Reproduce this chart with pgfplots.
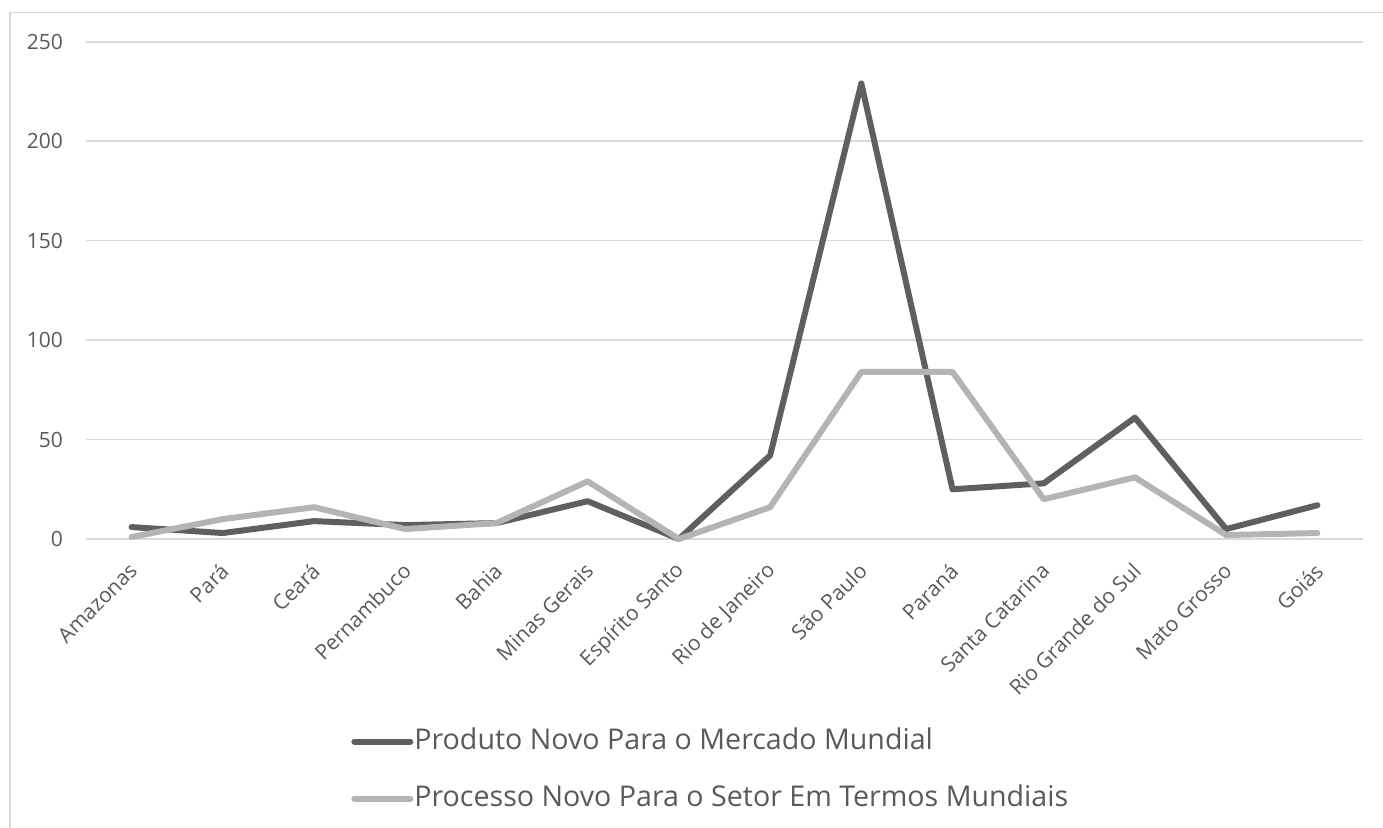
\documentclass[border=0pt]{standalone}
\usepackage{pgfplots}
\pgfplotsset{compat=1.18}
\usepackage{fontspec}
\setmainfont{Open Sans}
\definecolor{serdark}{HTML}{5F5F5F}
\definecolor{serlight}{HTML}{B4B4B4}
\definecolor{txtgray}{HTML}{595959}
\definecolor{gridgray}{HTML}{D9D9D9}
\begin{document}
\begin{tikzpicture}[font=\fontsize{10.5}{13}\selectfont]
  \useasboundingbox (0,0) rectangle (691.5pt,-413.5pt);
  % chart frame (cropped at right and bottom)
  \draw[gridgray, line width=0.8pt] (5pt,-420pt) -- (5pt,-6.3pt) -- (700pt,-6.3pt);
  \begin{axis}[
      at={(43pt,-269.5pt)}, anchor=south west,
      scale only axis,
      width=638.5pt, height=248.65pt,
      xmin=-0.5, xmax=13.5,
      ymin=0, ymax=250,
      ytick={0,50,...,250},
      xtick={0,...,13},
      xticklabels={Amazonas, Pará, Ceará, Pernambuco, Bahia, Minas Gerais, Espírito Santo, Rio de Janeiro, São Paulo, Paraná, Santa Catarina, Rio Grande do Sul, Mato Grosso, Goiás},
      xticklabel style={xshift=1pt, yshift=-14pt, rotate=45, anchor=east, text=txtgray, inner sep=0pt},
      yticklabel style={text=txtgray, xshift=-8pt},
      /pgf/number format/assume math mode=true,
      major tick length=0pt,
      axis line style={draw=none},
      ymajorgrids,
      grid style={gridgray, line width=0.8pt},
      clip=false,
      legend cell align=left,
      legend style={at={(0.2075,-0.4645)}, anchor=west, draw=none, fill=none,
        font=\fontsize{14.3}{17}\selectfont, text=txtgray, row sep=15pt,
        inner sep=0pt, nodes={inner xsep=0.5pt, inner ysep=0pt, text height=10.5pt, text depth=3pt}},
      legend image code/.code={\draw[#1, line width=3pt, line cap=round] (0pt,0pt) -- (28pt,0pt);},
      every axis plot/.append style={line width=3pt, line cap=round, line join=round},
    ]
    \addplot[serdark] coordinates {
      (0,6) (1,3) (2,9) (3,7) (4,8) (5,19) (6,0) (7,42) (8,229) (9,25) (10,28) (11,61) (12,5) (13,17)
    };
    \addlegendentry{Produto Novo Para o Mercado Mundial}
    \addplot[serlight] coordinates {
      (0,1) (1,10) (2,16) (3,5) (4,8) (5,29) (6,0) (7,16) (8,84) (9,84) (10,20) (11,31) (12,2) (13,3)
    };
    \addlegendentry{Processo Novo Para o Setor Em Termos Mundiais}
  \end{axis}
\end{tikzpicture}
\end{document}
